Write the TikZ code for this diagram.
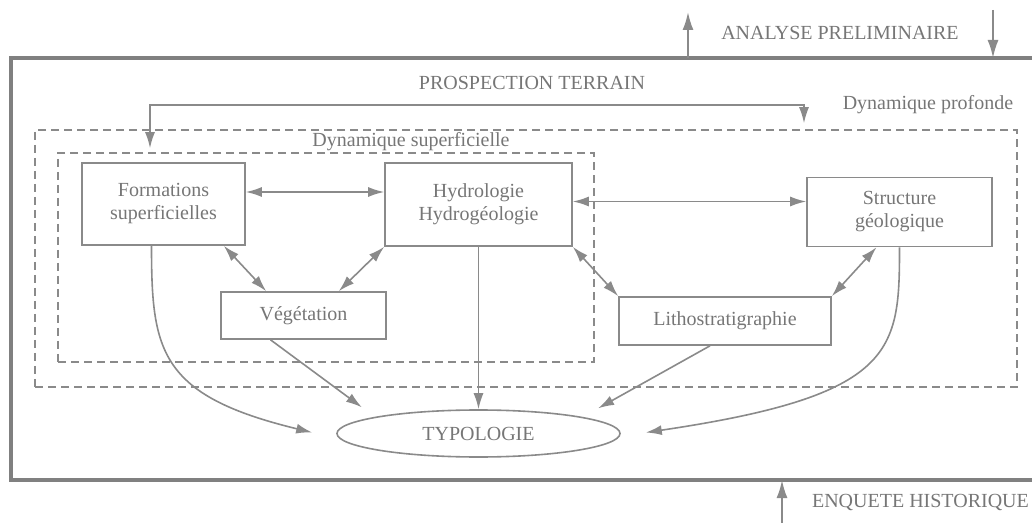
\documentclass[tikz,border=0pt]{standalone}
\usepackage{fontspec}
\setmainfont{Liberation Serif}
\usetikzlibrary{arrows.meta,calc,shapes.geometric}
\definecolor{trait}{RGB}{138,138,138}
\definecolor{texte}{RGB}{118,118,118}
\definecolor{cadre}{RGB}{128,128,128}

\begin{document}
\begin{tikzpicture}[x=0.5pt,y=-0.5pt,>={Latex[length=8pt,width=5pt]},
  every node/.style={font=\fontsize{10}{11.5}\selectfont,text=texte},
  boite/.style={draw=trait,line width=0.8pt,align=center,inner sep=2pt},
  zone/.style={draw=trait,line width=0.8pt,dash pattern=on 4pt off 2.5pt,inner sep=0pt},
  fl/.style={draw=trait,line width=0.8pt,->},
  dfl/.style={draw=trait,line width=0.8pt,<->},
  grfl/.style={draw=trait,line width=1pt,-{Latex[length=9pt,width=5.5pt]}}]
\useasboundingbox (0,0) rectangle (1032,523);
% cadre general
\draw[cadre,line width=1.7pt] (1032,58) -- (11,58) -- (11,480) -- (1032,480);
\node (prosp) at (532,83) {PROSPECTION TERRAIN};
\node (analyse) at (840,33) {ANALYSE PRELIMINAIRE};
\node[anchor=west] (enquete) at (805,502) {ENQUETE HISTORIQUE};
\coordinate (apA) at (688,58); \coordinate (apB) at (688,12);
\coordinate (apC) at (993,10); \coordinate (apD) at (993,58);
\coordinate (ehA) at (782,523); \coordinate (ehB) at (782,480);
\draw[grfl] (apA) -- (apB);
\draw[grfl] (apC) -- (apD);
\draw[grfl] (ehA) -- (ehB);
% zones
\node[zone,minimum width=491pt,minimum height=128.5pt] (profonde) at (526,258.5) {};
\node[zone,minimum width=268pt,minimum height=104.5pt] (superf) at (326,257.5) {};
\node (lprof) at (928,105) {Dynamique profonde};
\node (lsup) at (411,142) {Dynamique superficielle};
% boites
\node[boite,minimum width=81.5pt,minimum height=41pt] (form) at (163.5,204) {Formations\\superficielles};
\node[boite,minimum width=93.5pt,minimum height=41.5pt] (hydro) at (478.5,204.5) {Hydrologie\\Hydrogéologie};
\node[boite,minimum width=92.5pt,minimum height=34.5pt] (struct) at (899.5,212) {Structure\\géologique};
\node[boite,minimum width=106pt,minimum height=24pt] (litho) at (725,321) {Lithostratigraphie};
\node[boite,minimum width=82.5pt,minimum height=23.5pt] (veget) at (303.5,315.5) {Végétation};
\node[draw=trait,line width=0.8pt,ellipse,minimum width=141.5pt,minimum height=23.5pt,inner sep=0pt] (typo) at (478.5,433.5) {TYPOLOGIE};
% liaisons
\coordinate (h1) at (150,105); \coordinate (h2) at (804,105);
\draw[dfl,shorten <=2pt,shorten >=3pt] (superf.north -| h1) |- (h2) -- (profonde.north -| h2);
\coordinate (fh) at ($(form.east)+(0,-12)$);
\coordinate (hs) at ($(hydro.east)+(0,-3)$);
\draw[dfl] (fh) -- (fh -| hydro.west);
\draw[dfl] (hs) -- (hs -| struct.west);
\draw[dfl] ($(form.south east)+(-22,0)$) -- ($(veget.north west)+(46,0)$);
\draw[dfl] (hydro.south west) -- ($(veget.north east)+(-48,0)$);
\draw[dfl] (hydro.south east) -- (litho.north west);
\draw[dfl] ($(struct.south)+(-23,0)$) -- (litho.north east);
% vers la typologie
\draw[fl] (hydro.south) -- (typo.north);
\draw[fl] ($(veget.south)+(-33,0)$) -- ($(typo.north west)+(-16,-9)$);
\draw[fl] ($(litho.south)+(-15,0)$) -- ($(typo.north east)+(19,-8)$);
\draw[fl] ($(form.south)+(-12,0)$) .. controls +(0,105) and +(-153,-37) .. ($(typo.west)+(-24,-1)$);
\draw[fl] (struct.south) .. controls +(0,104) and +(250,-37) .. ($(typo.east)+(25,-1)$);
\end{tikzpicture}
\end{document}
